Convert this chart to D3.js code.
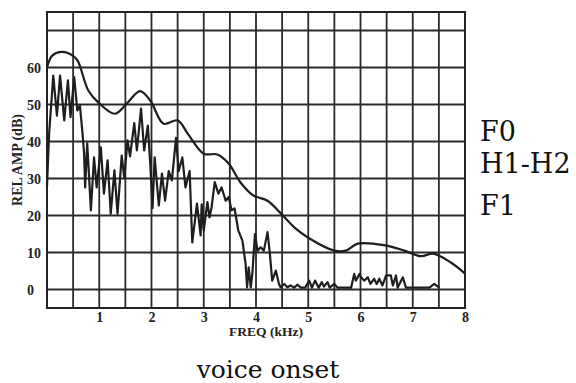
<!DOCTYPE html>
<html>
<head>
<meta charset="utf-8">
<script src="https://cdn.jsdelivr.net/npm/d3@7/dist/d3.min.js"></script>
<style>
  html, body { margin: 0; padding: 0; background: #ffffff; }
  svg { display: block; }
  .tick text { font-family: "Liberation Serif", serif; font-weight: bold; font-size: 14px; fill: #222; }
</style>
</head>
<body>
<svg id="chart" width="576" height="383"></svg>
<script>
// Smoothed spectral envelope (kHz, dB)
const envFreq = [0.0, 0.1, 0.27, 0.45, 0.58, 0.79, 1.0, 1.3, 1.53, 1.78, 1.98, 2.23, 2.5, 2.7, 3.0, 3.26, 3.48, 3.7, 3.95, 4.22, 4.48, 4.75, 5.0, 5.5, 5.72, 5.95, 6.45, 6.84, 7.16, 7.39, 7.73, 8.0];
const envAmp  = [60.0, 63.2, 64.2, 63.6, 62.0, 53.8, 50.3, 47.5, 50.3, 53.6, 51.0, 44.8, 45.7, 42.0, 36.7, 36.5, 34.0, 29.0, 25.4, 24.0, 20.5, 16.6, 14.0, 10.5, 10.5, 12.4, 12.0, 10.5, 9.0, 9.7, 7.3, 4.3];

// Harmonic (narrow-band) spectrum (kHz, dB)
const specFreq = [0.0, 0.04, 0.12, 0.19, 0.25, 0.33, 0.40, 0.45, 0.52, 0.58, 0.63, 0.68, 0.71, 0.73, 0.77, 0.84, 0.90, 0.95, 1.03, 1.09, 1.16, 1.22, 1.29, 1.35, 1.43, 1.48, 1.54, 1.59, 1.67, 1.72, 1.80, 1.86, 1.93, 1.98, 2.02, 2.06, 2.14, 2.20, 2.26, 2.33, 2.39, 2.47, 2.52, 2.59, 2.65, 2.73, 2.78, 2.87, 2.94, 2.96, 3.00, 3.07, 3.11, 3.15, 3.21, 3.28, 3.34, 3.42, 3.48, 3.53, 3.59, 3.66, 3.74, 3.80, 3.83, 3.86, 3.90, 3.93, 3.98, 4.03, 4.09, 4.15, 4.22, 4.26, 4.31, 4.38, 4.44, 4.47, 4.54, 4.60, 4.66, 4.73, 4.79, 4.86, 4.94, 5.02, 5.07, 5.13, 5.20, 5.26, 5.30, 5.37, 5.41, 5.50, 5.56, 5.82, 5.88, 5.91, 5.98, 6.01, 6.07, 6.14, 6.19, 6.26, 6.31, 6.36, 6.42, 6.49, 6.58, 6.62, 6.68, 6.71, 6.81, 6.87, 7.32, 7.41, 7.51];
const specAmp  = [28.0, 42.0, 57.8, 47.0, 57.8, 45.7, 56.5, 46.6, 57.4, 48.4, 49.7, 42.2, 36.8, 27.6, 39.5, 21.4, 35.7, 27.6, 38.4, 25.9, 34.9, 20.5, 32.2, 20.5, 36.2, 30.0, 40.3, 36.0, 45.0, 37.6, 48.9, 37.6, 44.3, 33.0, 22.0, 35.7, 22.7, 31.3, 24.0, 32.0, 29.5, 41.0, 32.0, 35.7, 27.6, 32.0, 12.7, 23.2, 14.6, 23.0, 16.0, 23.6, 19.5, 22.2, 29.0, 25.9, 27.6, 24.0, 25.0, 21.4, 21.9, 16.0, 13.2, 7.0, 0.6, 6.0, 0.6, 4.3, 15.0, 10.5, 11.4, 10.5, 15.5, 10.5, 2.4, 5.1, 1.5, 0.6, 1.5, 0.6, 1.1, 0.5, 1.3, 0.5, 0.5, 2.4, 0.5, 2.4, 0.5, 2.0, 0.8, 2.0, 0.5, 1.5, 0.5, 0.5, 4.2, 2.4, 4.2, 3.3, 2.4, 3.3, 1.5, 2.9, 1.5, 2.9, 1.1, 3.8, 3.8, 1.1, 3.8, 0.5, 3.3, 0.5, 0.5, 1.5, 0.5];

const xTicks = [1, 2, 3, 4, 5, 6, 7, 8];
const yTicks = [0, 10, 20, 30, 40, 50, 60];
const xGrid = d3.range(0, 8.01, 0.5);
const yGrid = [0, 10, 20, 30, 40, 50, 60, 70];
const sideLabels = ["F0", "H1-H2", "F1"];
const caption = "voice onset";

const svg = d3.select("#chart");
const x = d3.scaleLinear().domain([0, 8]).range([47, 465]);
const y = d3.scaleLinear().domain([-5, 75]).range([308, 12]);

const ink = "#1e1e1e";

// grid
const grid = svg.append("g").attr("stroke", "#2a2a2a").attr("stroke-width", 1.8);
grid.selectAll("line.v").data(xGrid).join("line")
  .attr("x1", d => x(d)).attr("x2", d => x(d))
  .attr("y1", y(75)).attr("y2", y(-5));
grid.selectAll("line.h").data(yGrid).join("line")
  .attr("x1", x(0)).attr("x2", x(8))
  .attr("y1", d => y(d)).attr("y2", d => y(d));
svg.append("rect")
  .attr("x", x(0)).attr("y", y(75))
  .attr("width", x(8) - x(0)).attr("height", y(-5) - y(75))
  .attr("fill", "none").attr("stroke", "#222").attr("stroke-width", 2);

// axes (labels only)
const xAxis = svg.append("g").attr("transform", `translate(0,${y(-5)})`)
  .call(d3.axisBottom(x).tickValues(xTicks).tickSize(0).tickPadding(4).tickFormat(d3.format("d")));
xAxis.select(".domain").remove();

const yAxis = svg.append("g").attr("transform", `translate(${x(0)},0)`)
  .call(d3.axisLeft(y).tickValues(yTicks).tickSize(0).tickFormat(d3.format("d")));
yAxis.select(".domain").remove();
yAxis.selectAll(".tick text").attr("text-anchor", "start").attr("x", 27 - x(0)).attr("dy", "0.36em");

svg.append("text")
  .attr("x", 266).attr("y", 336)
  .attr("text-anchor", "middle")
  .attr("font-family", "Liberation Serif, serif").attr("font-weight", "bold").attr("font-size", 13.5)
  .attr("fill", "#222")
  .text("FREQ (kHz)");

svg.append("text")
  .attr("transform", "translate(22,160) rotate(-90)")
  .attr("text-anchor", "middle")
  .attr("font-family", "Liberation Serif, serif").attr("font-weight", "bold").attr("font-size", 14)
  .attr("fill", "#222")
  .text("REL AMP (dB)");

// curves
const envLine = d3.line().x((d, i) => x(envFreq[i])).y(d => y(d)).curve(d3.curveCatmullRom.alpha(0.5));
svg.append("path").datum(envAmp)
  .attr("d", envLine)
  .attr("fill", "none").attr("stroke", ink).attr("stroke-width", 2.2);

const specLine = d3.line().x((d, i) => x(specFreq[i])).y(d => y(d)).curve(d3.curveLinear);
svg.append("path").datum(specAmp)
  .attr("d", specLine)
  .attr("fill", "none").attr("stroke", ink).attr("stroke-width", 2.2)
  .attr("stroke-linejoin", "round");

// side labels
const sideY = [141, 173, 215];
svg.selectAll("text.side").data(sideLabels).join("text")
  .attr("class", "side")
  .attr("x", 480).attr("y", (d, i) => sideY[i])
  .attr("font-family", "DejaVu Serif, serif").attr("font-size", 27)
  .attr("fill", "#111")
  .text(d => d);

svg.append("text")
  .attr("x", 268).attr("y", 378)
  .attr("text-anchor", "middle")
  .attr("font-family", "DejaVu Serif, serif").attr("font-size", 25)
  .attr("fill", "#111")
  .text(caption);
</script>
</body>
</html>
